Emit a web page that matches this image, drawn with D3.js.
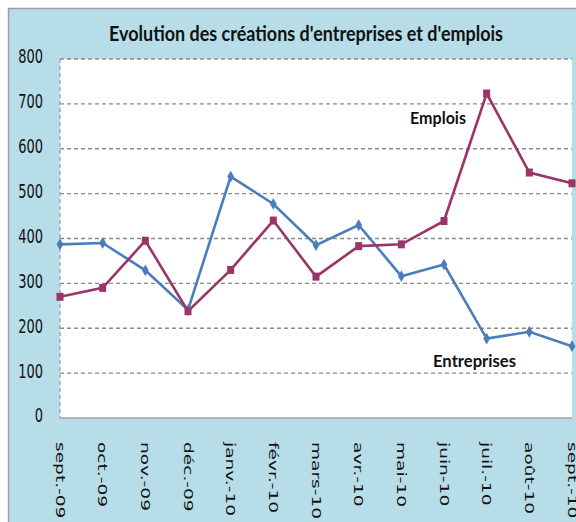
<!DOCTYPE html>
<meta charset="utf-8">
<style>
  body { margin: 0; background: #fff; }
  svg { display: block; }
</style>
<body>
<div id="chart"></div>
<script src="https://cdnjs.cloudflare.com/ajax/libs/d3/7.8.5/d3.min.js"></script>
<script>
// data
const months = ["sept.-09", "oct.-09", "nov.-09", "déc.-09", "janv.-10", "févr.-10", "mars-10",
                "avr.-10", "mai-10", "juin-10", "juil.-10", "août-10", "sept.-10"];
const entreprises = [387, 390, 329, 241, 538, 477, 385, 430, 316, 342, 177, 192, 160];
const emplois     = [270, 290, 395, 238, 330, 440, 315, 383, 387, 439, 723, 547, 523];
const yTicks = [0, 100, 200, 300, 400, 500, 600, 700, 800];

const W = 576, H = 522;
const m = { left: 60, right: 572, top: 59, bottom: 418 };
const blue = "#4a7ebb", red = "#9b3567";

const svg = d3.select("#chart").append("svg")
  .attr("width", W).attr("height", H);

// light blue frame
svg.append("rect")
  .attr("x", 8.5).attr("y", 8.5)
  .attr("width", W + 20).attr("height", H + 20)
  .attr("fill", "#b7dde8")
  .attr("stroke", "#9e9e9e").attr("stroke-width", 1.5);

// plot area
svg.append("rect")
  .attr("x", m.left).attr("y", m.top)
  .attr("width", m.right - m.left).attr("height", m.bottom - m.top)
  .attr("fill", "#fff");

const x = d3.scalePoint().domain(months).range([m.left, m.right]);
const y = d3.scaleLinear().domain([0, 800]).range([m.bottom, m.top]);

// grid lines
svg.append("g")
  .selectAll("line")
  .data(yTicks.filter(d => d > 0))
  .join("line")
    .attr("x1", m.left).attr("x2", m.right)
    .attr("y1", d => y(d)).attr("y2", d => y(d))
    .attr("stroke", "#8a8a8a").attr("stroke-width", 1.4)
    .attr("stroke-dasharray", "4,3");

// left axis (dashed) and bottom axis
svg.append("line")
  .attr("x1", m.left).attr("x2", m.left)
  .attr("y1", m.top).attr("y2", m.bottom)
  .attr("stroke", "#9a9a9a").attr("stroke-width", 1.2)
  .attr("stroke-dasharray", "4,3");
svg.append("line")
  .attr("x1", m.left).attr("x2", m.right)
  .attr("y1", m.bottom).attr("y2", m.bottom)
  .attr("stroke", "#a0a0a0").attr("stroke-width", 1.5);

// y tick labels (stretched like the picture)
svg.append("g")
  .selectAll("text")
  .data(yTicks)
  .join("text")
    .attr("transform", d => `translate(43,${y(d) - 2}) scale(1,1.5)`)
    .attr("text-anchor", "end")
    .attr("dominant-baseline", "central")
    .attr("font-family", "DejaVu Sans")
    .attr("font-size", 13)
    .attr("fill", "#111")
    .text(d => d);

// x tick labels, rotated
svg.append("g")
  .selectAll("text")
  .data(months)
  .join("text")
    .attr("transform", d => `translate(${x(d)},442) rotate(90) scale(1.43,1)`)
    .attr("text-anchor", "start")
    .attr("dominant-baseline", "central")
    .attr("font-family", "DejaVu Sans")
    .attr("font-size", 13)
    .attr("fill", "#111")
    .text(d => d);

// title
svg.append("text")
  .attr("x", 109).attr("y", 41)
  .attr("textLength", 394).attr("lengthAdjust", "spacingAndGlyphs")
  .attr("font-family", "Lato").attr("font-weight", "bold")
  .attr("font-size", 20).attr("fill", "#111")
  .text("Evolution des créations d'entreprises et d'emplois");

const line = d3.line()
  .x((d, i) => x(months[i]))
  .y(d => y(d));

// Entreprises
svg.append("path")
  .datum(entreprises)
  .attr("d", line)
  .attr("fill", "none").attr("stroke", blue).attr("stroke-width", 2.6);
svg.append("g")
  .selectAll("path")
  .data(entreprises)
  .join("path")
    .attr("d", d3.symbol().type(d3.symbolDiamond).size(40))
    .attr("transform", (d, i) => `translate(${x(months[i])},${y(d)})`)
    .attr("fill", blue);

// Emplois
svg.append("path")
  .datum(emplois)
  .attr("d", line)
  .attr("fill", "none").attr("stroke", red).attr("stroke-width", 2.6);
svg.append("g")
  .selectAll("rect")
  .data(emplois)
  .join("rect")
    .attr("x", (d, i) => x(months[i]) - 3.5)
    .attr("y", d => y(d) - 4)
    .attr("width", 7).attr("height", 8)
    .attr("fill", red);

// series labels
svg.append("text")
  .attr("x", 410).attr("y", 124)
  .attr("textLength", 56).attr("lengthAdjust", "spacingAndGlyphs")
  .attr("font-family", "Lato").attr("font-weight", "bold")
  .attr("font-size", 17).attr("fill", "#111")
  .text("Emplois");
svg.append("text")
  .attr("x", 433).attr("y", 367)
  .attr("textLength", 83).attr("lengthAdjust", "spacingAndGlyphs")
  .attr("font-family", "Lato").attr("font-weight", "bold")
  .attr("font-size", 17).attr("fill", "#111")
  .text("Entreprises");
</script>
</body>
